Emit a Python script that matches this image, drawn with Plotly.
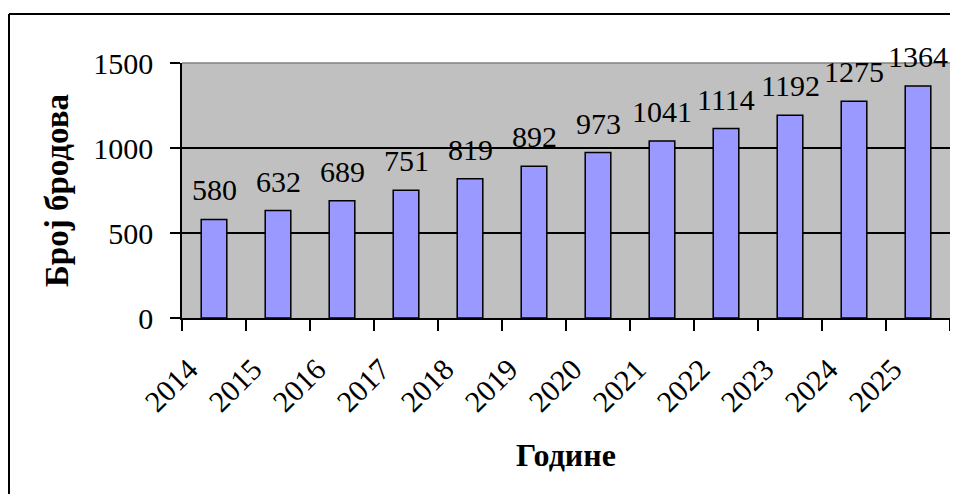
import plotly.graph_objects as go

years = ["2014", "2015", "2016", "2017", "2018", "2019", "2020", "2021", "2022", "2023", "2024", "2025"]
ships = [580, 632, 689, 751, 819, 892, 973, 1041, 1114, 1192, 1275, 1364]
y_ticks = [0, 500, 1000, 1500]

FONT = "Liberation Serif, Times New Roman, serif"
NUM_SIZE = 30
W, H = 942, 486

fig = go.Figure()
fig.add_trace(go.Bar(
    x=years, y=ships,
    marker=dict(color="#9999FF", line=dict(color="black", width=1.5)),
    hoverinfo="x+y",
))

# value labels (category index positions on the category axis)
for i, v in enumerate(ships):
    fig.add_annotation(x=i, y=v, text=str(v), showarrow=False,
                       yanchor="bottom", xanchor="center", yshift=11,
                       font=dict(family=FONT, size=NUM_SIZE, color="black"))

# plot-area top edge (gray)
fig.add_shape(type="line", xref="x domain", yref="y domain", x0=0, x1=1, y0=1, y1=1,
              line=dict(color="#808080", width=1.5), layer="above")
# outer chart frame (only left and top edges fall inside the picture)
PL, PR, PT, PB = 174, 942, 55, 310
fx = (1 - PL) / (PR - PL)
fy = (PB - 6) / (PB - PT)
fig.add_shape(type="line", xref="paper", yref="paper", x0=fx, x1=1.02, y0=fy, y1=fy,
              line=dict(color="black", width=2), layer="below")
fig.add_shape(type="line", xref="paper", yref="paper", x0=fx, x1=fx, y0=-0.8, y1=fy,
              line=dict(color="black", width=2), layer="below")

fig.update_layout(
    width=W, height=H,
    margin=dict(l=PL, r=W - PR, t=PT, b=H - PB),
    paper_bgcolor="white", plot_bgcolor="#C0C0C0",
    bargap=0.6,
    showlegend=False,
    font=dict(family=FONT, size=NUM_SIZE, color="black"),
    xaxis=dict(
        type="category", tickangle=-45, tickson="boundaries",
        ticks="outside", ticklen=11, tickwidth=1.5, tickcolor="black",
        showline=True, linecolor="black", linewidth=1.5,
        showgrid=False, ticklabelstandoff=20, ticklabelshift=-25,
        tickfont=dict(family=FONT, size=NUM_SIZE),
        title=dict(text="<b>Године</b>", font=dict(family=FONT, size=32), standoff=27),
    ),
    yaxis=dict(
        range=[0, 1500], tickvals=y_ticks,
        ticks="outside", ticklen=10, tickwidth=1.5, tickcolor="black",
        showline=True, linecolor="black", linewidth=1.5,
        showgrid=True, gridcolor="black", gridwidth=1.5,
        zeroline=False, ticklabelstandoff=11,
        tickfont=dict(family=FONT, size=NUM_SIZE),
        title=dict(text="<b>Број бродова</b>", font=dict(family=FONT, size=33), standoff=15),
    ),
)

fig.write_html("out.html")
